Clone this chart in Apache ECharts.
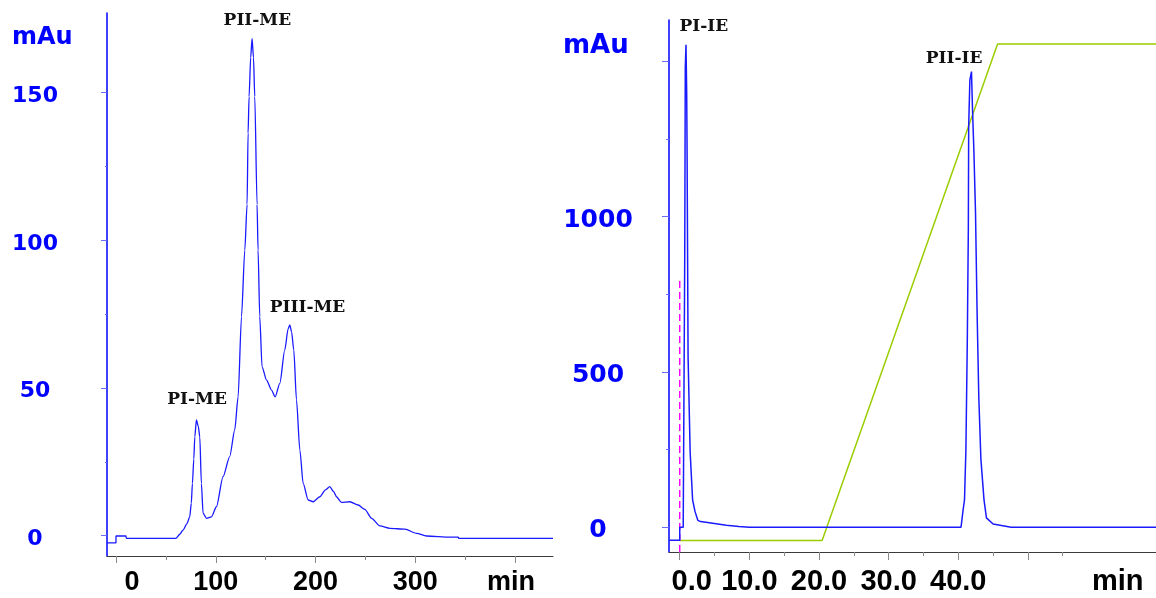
<!DOCTYPE html>
<html>
<head>
<meta charset="utf-8">
<script src="https://cdn.jsdelivr.net/npm/echarts@6/dist/echarts.min.js"></script>
<style>
html, body { margin: 0; padding: 0; background: #fff; }
#chart { width: 1156px; height: 598px; }
</style>
</head>
<body>
<div id="chart"></div>
<script>
// left trace (min, mAu)
const leftTime = [-9, 0, 0, 10, 10.4, 60, 64, 67.2, 71, 73.9, 75.5, 76.6, 78, 79, 80.6, 82.5, 84, 85.6, 87.3, 90.7, 95.7, 100.7, 107.3, 114, 119, 122.4, 125.8, 129.1, 131.4, 132.4, 133.4, 135, 136.4, 137.8, 139.1, 141.4, 142.4, 144.1, 146.4, 150.9, 155.9, 159.5, 164.2, 169.2, 172.5, 174.2, 176, 178.2, 180.9, 184.3, 187.6, 192.6, 197.6, 204.3, 210, 214.3, 218, 221, 226, 234.4, 242.7, 249.4, 256.2, 264.5, 274.5, 289.6, 301.3, 311.3, 335, 343, 343.5, 438]
const leftMAu = [-2.4, -2.4, -0.1, -0.1, -0.9, -0.9, 0.5, 1.9, 4, 6.4, 11, 17.7, 26, 33.5, 39.2, 37, 33.5, 17.7, 7.6, 5.9, 6.4, 9.8, 20, 26.8, 35.8, 47, 74.2, 96.7, 112.2, 136.3, 148.7, 162, 168.4, 162, 148.7, 112.2, 96.7, 74.2, 57.2, 52.7, 49.3, 47, 51.6, 62.9, 70, 71.4, 69, 62.9, 46, 29, 17.7, 12.1, 11.5, 13.2, 15.5, 16.6, 15, 13.2, 11.3, 11.5, 10.4, 8.9, 5.9, 3.3, 2.5, 2.2, 0.8, -0.1, -0.5, -0.5, -0.9, -0.9]

// right trace (min, mAu)
const rightTime = [-1.5, 0, 0, 0.5, 0.7, 0.72, 0.78, 0.8, 0.9, 1.0, 1.05, 1.15, 1.2, 1.45, 1.5, 1.75, 1.85, 2.2, 2.6, 3, 4, 6.7, 8.5, 10, 40.4, 40.7, 40.9, 41.1, 41.3, 41.45, 41.5, 41.67, 41.9, 42.05, 42.24, 42.48, 42.7, 42.95, 43.25, 43.7, 44.05, 45, 47.6, 68.4]
const rightMAu = [-42, -42, 0, 0, 0, 870, 870, 1480, 1553, 1400, 1238, 1238, 549, 549, 240, 235, 88, 50, 22, 18, 15, 6, 2, 0, 0, 56, 88, 250, 600, 962, 1293, 1440, 1467, 1344, 1216, 1012, 700, 420, 220, 88, 30, 10, 0, 0]

// gradient programme (min, %B)
const gradTime = [0, 20.45, 45.65, 68.4]
const gradPct = [0, 0, 100, 100]

// injection marker
const injectTime = [0, 0]
const injectMAu = [-80, 800]

// peak names and label anchors (data units)
const leftPeaks = ['PI-ME', 'PII-ME', 'PIII-ME']
const leftPeakX = [81.3, 141.7, 192]
const leftPeakY = [46, 174.6, 77.1]
const rightPeaks = ['PI-IE', 'PII-IE']
const rightPeakX = [3.45, 39.4]
const rightPeakY = [1611, 1508]

// ticks
const leftXMajor = [0, 100, 200, 300, 400]
const leftXMinor = [50, 150, 250, 350]
const leftYMajor = [0, 50, 100, 150]
const leftYMinor = [25, 75, 125]
const rightXMajor = [0, 10, 20, 30, 40, 50]
const rightXMinor = [5, 15, 25, 35, 45, 55]
const rightXLabels = [0, 10, 20, 30, 40, 62.9]
const rightYMajor = [0, 500, 1000, 1500]
const rightYMinor = [250, 750, 1250]
const rightYLabels = [0, 500, 1000]

const zip = (a, b) => a.map((v, i) => [v, b[i]])

const blue = '#0000ff'
const axisGray = '#3a3a3a'
const tickGray = '#8a8a8a'
const tickBlue = '#6a6aff'

// peak names drawn as invisible markPoints
const peakMarks = (names, xs, ys) => ({
  symbol: 'rect',
  symbolSize: [1, 1],
  itemStyle: { color: 'transparent' },
  label: {
    show: true,
    position: 'inside',
    formatter: p => p.name,
    fontFamily: 'DejaVu Serif',
    fontWeight: 'bold',
    fontSize: 17,
    color: '#111'
  },
  data: names.map((n, i) => ({ name: n, coord: [xs[i], ys[i]] }))
})

const xLabelBase = {
  fontFamily: 'Liberation Sans',
  fontWeight: 'bold',
  color: '#000'
}

const yLabel = size => ({
  align: 'center',
  formatter: v => '{a|' + v + '}',
  rich: {
    a: {
      fontFamily: 'DejaVu Sans', fontWeight: 'bold', fontSize: size, color: blue,
      padding: [7, 0, 0, 0]
    }
  }
})

const chart = echarts.init(document.getElementById('chart'))

const option = {
  animation: false,
  backgroundColor: '#fff',
  grid: [
    { left: 107, top: 13, width: 446, height: 543 },
    { left: 669, top: 20, right: 0, height: 532 }
  ],
  xAxis: [
    {
      gridIndex: 0, type: 'value', position: 'bottom', min: -9, max: 438,
      splitLine: { show: false },
      axisLine: { onZero: false, lineStyle: { color: axisGray } },
      axisTick: { customValues: leftXMajor, length: 7, lineStyle: { color: tickGray } },
      axisLabel: {
        customValues: leftXMajor,
        margin: 13,
        fontSize: 27,
        ...xLabelBase,
        formatter: v => v === 0 ? '{s|0}' : (v === 400 ? '{e|min}' : String(v)),
        rich: {
          s: { ...xLabelBase, fontSize: 27, padding: [0, 0, 0, 32] },
          e: { ...xLabelBase, fontSize: 27, padding: [0, 8, 0, 0] }
        }
      }
    },
    {
      gridIndex: 0, type: 'value', position: 'bottom', min: -9, max: 438,
      splitLine: { show: false },
      axisLine: { show: false, onZero: false },
      axisTick: { customValues: leftXMinor, length: 4, lineStyle: { color: tickGray } },
      axisLabel: { show: false }
    },
    {
      gridIndex: 1, type: 'value', position: 'bottom', min: -1.54, max: 68.4,
      splitLine: { show: false },
      axisLine: { onZero: false, lineStyle: { color: axisGray } },
      axisTick: { customValues: rightXMajor, length: 8, lineStyle: { color: tickGray } },
      axisLabel: {
        customValues: rightXLabels,
        margin: 15,
        fontSize: 29,
        ...xLabelBase,
        formatter: v => v === 0 ? '{s|0.0}' : (v > 60 ? 'min' : v.toFixed(1)),
        rich: {
          s: { ...xLabelBase, fontSize: 29, padding: [0, 0, 0, 24] }
        }
      }
    },
    {
      gridIndex: 1, type: 'value', position: 'bottom', min: -1.54, max: 68.4,
      splitLine: { show: false },
      axisLine: { show: false, onZero: false },
      axisTick: { customValues: rightXMinor, length: 4, lineStyle: { color: tickGray } },
      axisLabel: { show: false }
    }
  ],
  yAxis: [
    {
      gridIndex: 0, type: 'value', position: 'left', min: -6.87, max: 177,
      splitLine: { show: false },
      axisLine: { onZero: false, lineStyle: { color: blue, width: 1.5 } },
      axisTick: { customValues: leftYMajor, length: 6, lineStyle: { color: tickBlue } },
      axisLabel: { customValues: leftYMajor, ...yLabel(22), margin: 72 }
    },
    {
      gridIndex: 0, type: 'value', position: 'left', min: -6.87, max: 177,
      splitLine: { show: false },
      axisLine: { show: false, onZero: false },
      axisTick: { customValues: leftYMinor, length: 2, lineStyle: { color: tickBlue } },
      axisLabel: { show: false }
    },
    {
      gridIndex: 1, type: 'value', position: 'left', min: -80, max: 1633,
      splitLine: { show: false },
      axisLine: { onZero: false, lineStyle: { color: blue, width: 1.5 } },
      axisTick: { customValues: rightYMajor, length: 7, lineStyle: { color: tickBlue } },
      axisLabel: { customValues: rightYLabels, ...yLabel(25), margin: 71 }
    },
    {
      gridIndex: 1, type: 'value', position: 'left', min: -80, max: 1633,
      splitLine: { show: false },
      axisLine: { show: false, onZero: false },
      axisTick: { customValues: rightYMinor, length: 3, lineStyle: { color: tickBlue } },
      axisLabel: { show: false }
    },
    {
      // hidden %B scale for the gradient line
      gridIndex: 1, type: 'value', min: -2.335, max: 104.83, show: false
    }
  ],
  graphic: [
    { type: 'text', left: 12, top: 26, style: { text: 'mAu', fill: blue, font: 'bold 24px "DejaVu Sans"' } },
    { type: 'text', left: 563, top: 33, style: { text: 'mAu', fill: blue, font: 'bold 26px "DejaVu Sans"' } }
  ],
  series: [
    {
      name: 'left', type: 'line', xAxisIndex: 0, yAxisIndex: 0,
      data: zip(leftTime, leftMAu),
      showSymbol: false, smooth: 0.25, smoothMonotone: 'x',
      lineStyle: { color: '#1a1aff', width: 1.3 },
      markPoint: peakMarks(leftPeaks, leftPeakX, leftPeakY)
    },
    {
      name: 'gradient', type: 'line', xAxisIndex: 2, yAxisIndex: 4,
      data: zip(gradTime, gradPct),
      showSymbol: false,
      lineStyle: { color: '#9acd00', width: 1.5 }
    },
    {
      name: 'inject', type: 'line', xAxisIndex: 2, yAxisIndex: 2,
      data: zip(injectTime, injectMAu),
      showSymbol: false,
      lineStyle: { color: '#ff00ff', width: 1.5, type: [7, 4] }
    },
    {
      name: 'right', type: 'line', xAxisIndex: 2, yAxisIndex: 2,
      data: zip(rightTime, rightMAu),
      showSymbol: false,
      lineStyle: { color: '#1a1aff', width: 1.5 },
      markPoint: peakMarks(rightPeaks, rightPeakX, rightPeakY)
    }
  ]
}

chart.setOption(option)
</script>
</body>
</html>
